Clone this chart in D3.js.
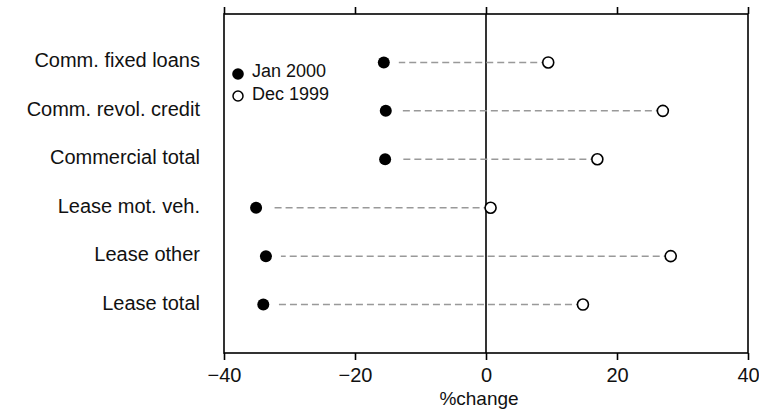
<!DOCTYPE html>
<html>
<head>
<meta charset="utf-8">
<script src="https://cdn.jsdelivr.net/npm/d3@7"></script>
<style>
  html, body { margin: 0; padding: 0; background: #fff; }
  svg { display: block; font-family: "Liberation Sans", Arial, sans-serif; }
</style>
</head>
<body>
<svg id="chart" width="759" height="412"></svg>
<script>
const categories = ["Comm. fixed loans", "Comm. revol. credit", "Commercial total",
                    "Lease mot. veh.", "Lease other", "Lease total"];
const jan2000 = [-15.6, -15.3, -15.4, -35.1, -33.6, -34.0];
const dec1999 = [9.5, 27.0, 17.0, 0.7, 28.2, 14.8];
const xTicks = [-40, -20, 0, 20, 40];
const seriesNames = ["Jan 2000", "Dec 1999"];
const xTitle = "%change";

const data = categories.map((c, i) => ({ cat: c, jan: jan2000[i], dec: dec1999[i] }));

const L = 224, R = 748, T = 14, B = 353;
const svg = d3.select("#chart");

const x = d3.scaleLinear().domain([-40, 40]).range([L, R]);
const y = d3.scalePoint().domain(categories).range([T, B]).padding(1);

// frame
svg.append("rect")
  .attr("x", L).attr("y", T).attr("width", R - L).attr("height", B - T)
  .attr("fill", "none").attr("stroke", "#000").attr("stroke-width", 1.6);

// zero line
svg.append("line")
  .attr("x1", x(0)).attr("x2", x(0)).attr("y1", T).attr("y2", B)
  .attr("stroke", "#000").attr("stroke-width", 1.6);

// bottom axis
const gx = svg.append("g").attr("transform", `translate(0,${B})`)
  .call(d3.axisBottom(x).tickValues(xTicks).tickSize(7).tickPadding(7.5).tickSizeOuter(0));
gx.select(".domain").remove();
gx.selectAll(".tick line").attr("stroke", "#000").attr("stroke-width", 1.6);
gx.selectAll(".tick text").attr("font-size", 20).attr("fill", "#111")
  .attr("font-family", "Liberation Sans, Arial, sans-serif");

// top axis (ticks only)
const gt = svg.append("g").attr("transform", `translate(0,${T})`)
  .call(d3.axisTop(x).tickValues(xTicks).tickSize(7).tickFormat("").tickSizeOuter(0));
gt.select(".domain").remove();
gt.selectAll(".tick line").attr("stroke", "#000").attr("stroke-width", 1.6);

// axis title
svg.append("text").attr("x", 479).attr("y", 405)
  .attr("text-anchor", "middle").attr("font-size", 19).attr("fill", "#111")
  .text(xTitle);

// category labels
svg.append("g").selectAll("text").data(categories).join("text")
  .attr("x", 200).attr("y", d => y(d) + 5)
  .attr("text-anchor", "end").attr("font-size", 20).attr("fill", "#111")
  .text(d => d);

// dashed connectors
svg.append("g").selectAll("line").data(data).join("line")
  .attr("x1", d => x(d.dec)).attr("x2", d => x(d.jan) + 15)
  .attr("y1", d => y(d.cat)).attr("y2", d => y(d.cat))
  .attr("stroke", "#999").attr("stroke-width", 1.5)
  .attr("stroke-dasharray", "7,4");

// Jan 2000 filled
svg.append("g").selectAll("circle").data(data).join("circle")
  .attr("cx", d => x(d.jan)).attr("cy", d => y(d.cat)).attr("r", 6)
  .attr("fill", "#000");

// Dec 1999 open
svg.append("g").selectAll("circle").data(data).join("circle")
  .attr("cx", d => x(d.dec)).attr("cy", d => y(d.cat)).attr("r", 5.5)
  .attr("fill", "#fff").attr("stroke", "#000").attr("stroke-width", 1.6);

// legend
const lg = svg.append("g");
lg.append("circle").attr("cx", 238).attr("cy", 74).attr("r", 5.8).attr("fill", "#000");
lg.append("circle").attr("cx", 238).attr("cy", 96).attr("r", 5).attr("fill", "#fff")
  .attr("stroke", "#000").attr("stroke-width", 1.5);
lg.append("text").attr("x", 252).attr("y", 77).attr("font-size", 18).attr("fill", "#111").text(seriesNames[0]);
lg.append("text").attr("x", 252).attr("y", 100).attr("font-size", 18).attr("fill", "#111").text(seriesNames[1]);
</script>
</body>
</html>
